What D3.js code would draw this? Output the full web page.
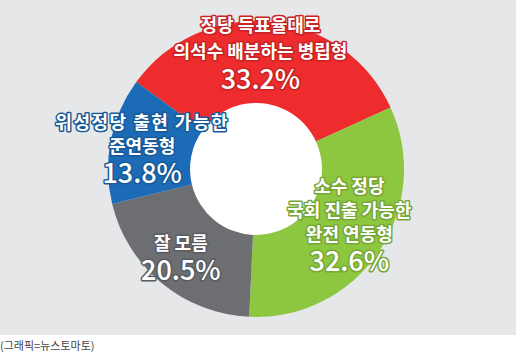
<!DOCTYPE html>
<html>
<head>
<meta charset="utf-8">
<script src="https://cdn.jsdelivr.net/npm/d3@7"></script>
<style>
  body { margin: 0; background: #fff; }
  svg { display: block; }
  text { font-family: "Noto Sans CJK KR", "Noto Sans", sans-serif; }
</style>
</head>
<body>
<div id="chart"></div>
<script>
// survey answers (percent)
const categories = [
  ["정당 득표율대로", "의석수 배분하는 병립형"],
  ["소수 정당", "국회 진출 가능한", "완전 연동형"],
  ["잘 모름"],
  ["위성정당 출현 가능한", "준연동형"]
];
const values = [33.2, 32.6, 20.5, 13.8];
const colors = ["#ee2b2d", "#8dc63f", "#6d6e72", "#1b6bb6"];
const caption = "(그래픽=뉴스토마토)";

const width = 516;
const height = 359;
const svg = d3.select("#chart").append("svg").attr("width", width).attr("height", height);

svg.append("rect").attr("width", width).attr("height", 335).attr("fill", "#e6e7e8");

const cx = 256, cy = 169;
const outerR = 148, innerR = 66;

const pie = d3.pie().sort(null).value(d => d)
  .startAngle(-54 * Math.PI / 180)
  .endAngle(306 * Math.PI / 180);
const arcs = pie(values);

const arc = d3.arc().innerRadius(innerR).outerRadius(outerR);
const labelArc = d3.arc().innerRadius(115).outerRadius(115);

const g = svg.append("g").attr("transform", `translate(${cx},${cy})`);

g.append("circle").attr("r", innerR).attr("fill", "#fff");

g.selectAll("path")
  .data(arcs)
  .enter()
  .append("path")
  .attr("d", arc)
  .attr("fill", (d, i) => colors[i]);

// small hand nudges so the label blocks sit like the original
const nudge = [[-7, -2], [-2, -9], [-2, -1], [-1, 1]];
const spacing = [0, 0, 0, 1.5];

arcs.forEach((d, i) => {
  const [lx, ly] = labelArc.centroid(d);
  const lines = categories[i];
  const titleStep = i === 0 ? 26 : 24, pctGap = 27;
  const blockH = (lines.length - 1) * titleStep + pctGap;
  const top = ly - blockH / 2 + nudge[i][1];
  const x = lx + nudge[i][0];
  const halo = d3.color(colors[i]).darker(0.5);

  const lbl = g.append("g");
  lines.forEach((t, j) => {
    lbl.append("text")
      .attr("x", x)
      .attr("y", top + j * titleStep)
      .attr("dy", "0.35em")
      .attr("text-anchor", "middle")
      .attr("font-size", 18)
      .attr("font-weight", 700)
      .attr("letter-spacing", j === 0 ? spacing[i] : 0)
      .attr("fill", "#fff")
      .attr("stroke", halo)
      .attr("stroke-width", 3)
      .attr("paint-order", "stroke")
      .attr("stroke-linejoin", "round")
      .text(t);
  });
  lbl.append("text")
    .attr("x", x)
    .attr("y", top + blockH)
    .attr("dy", "0.35em")
    .attr("text-anchor", "middle")
    .attr("font-size", 27)
    .attr("font-weight", 500)
    .attr("fill", "#fff")
    .attr("stroke", halo)
    .attr("stroke-width", 3)
    .attr("paint-order", "stroke")
    .attr("stroke-linejoin", "round")
    .text(d3.format(".1f")(values[i]) + "%");
});

svg.append("text")
  .attr("x", 0)
  .attr("y", 346)
  .attr("dy", "0.35em")
  .attr("font-size", 11)
  .attr("fill", "#444")
  .text(caption);
</script>
</body>
</html>
